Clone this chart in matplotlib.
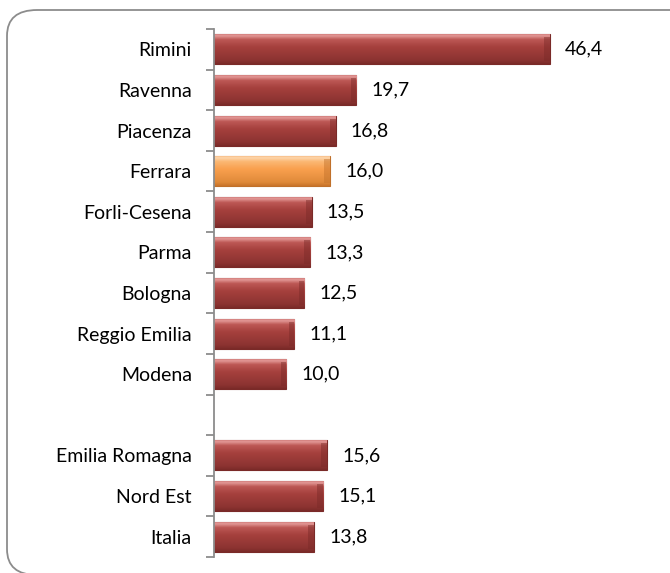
import numpy as np
import matplotlib
matplotlib.use("Agg")
import matplotlib.pyplot as plt
from matplotlib.colors import LinearSegmentedColormap
from matplotlib.patches import FancyBboxPatch

plt.rcParams['font.family'] = ['Lato', 'DejaVu Sans']

# --- data (blank entry = gap row between provinces and aggregates) ---
labels = ["Rimini", "Ravenna", "Piacenza", "Ferrara", "Forli-Cesena", "Parma",
          "Bologna", "Reggio Emilia", "Modena", "",
          "Emilia Romagna", "Nord Est", "Italia"]
values = [46.4, 19.7, 16.8, 16.0, 13.5, 13.3, 12.5, 11.1, 10.0, np.nan,
          15.6, 15.1, 13.8]
highlight = "Ferrara"

red_cmap = LinearSegmentedColormap.from_list(
    "red", [(0.0, "#7a2a28"), (0.12, "#8c3331"), (0.55, "#a5403d"),
            (0.80, "#bd5855"), (0.92, "#e39896"), (1.0, "#c97270")])
orange_cmap = LinearSegmentedColormap.from_list(
    "orange", [(0.0, "#c8742a"), (0.12, "#e08a3a"), (0.55, "#f9a04e"),
               (0.80, "#fbb874"), (0.92, "#fdd6ac"), (1.0, "#f5b377")])

fig = plt.figure(figsize=(6.7, 5.73), dpi=100)

# rounded outer frame, running off the right and bottom edges
frame = FancyBboxPatch((7 / 670, 1 - 575 / 573), 1.1, 565 / 573,
                       boxstyle="round,pad=0,rounding_size=0.045",
                       transform=fig.transFigure, facecolor="none",
                       edgecolor="#8c8c8c", linewidth=1.3, zorder=-1)
fig.patches.append(frame)

ax = fig.add_axes([214 / 670, 1 - 557 / 573, 434 / 670, 528 / 573])
ax.set_facecolor("none")

y = np.arange(len(labels))
vals = np.nan_to_num(np.array(values, dtype=float))
bars = ax.barh(y, vals, height=0.74, color="#a5403d", edgecolor="#7a2a28",
               linewidth=0.8, zorder=2)

grad = np.linspace(0, 1, 64).reshape(-1, 1)
for lab, v, bar in zip(labels, values, bars):
    if np.isnan(v):
        bar.set_visible(False)
        continue
    cmap = orange_cmap if lab == highlight else red_cmap
    edge = "#c0702a" if lab == highlight else "#7a2a28"
    bar.set_edgecolor(edge)
    bx, by = bar.get_x(), bar.get_y()
    bw, bh = bar.get_width(), bar.get_height()
    # vertical bevel gradient, dark at bottom and light near the top
    im = ax.imshow(grad, extent=(bx, bx + bw, by + bh, by), aspect="auto",
                   cmap=cmap, vmin=0, vmax=1, zorder=2.5, origin="lower",
                   interpolation="bilinear")
    im.set_clip_path(bar)
    # darker right end cap
    ax.barh(by + bh / 2, 0.8, left=bx + bw - 0.8, height=bh * 0.8,
            color=edge, alpha=0.45, linewidth=0, zorder=2.6)
    ax.annotate(f"{v:.1f}".replace(".", ","), xy=(v, by + bh / 2),
                xytext=(11, 0), textcoords="offset points", va="center",
                ha="left", fontsize=14, color="#000000")

ax.set_xlim(0, 60)
ax.set_ylim(len(labels) - 0.5, -0.5)
ax.set_yticks(y)
ax.set_yticklabels(labels, fontsize=14)
ax.set_yticks(np.arange(len(labels) + 1) - 0.5, minor=True)
ax.tick_params(axis="y", which="major", length=0, pad=16)
ax.tick_params(axis="y", which="minor", length=6, width=1.3, color="#8c8c8c")
ax.set_xticks([])
for side in ["top", "right", "bottom"]:
    ax.spines[side].set_visible(False)
ax.spines["left"].set_color("#8c8c8c")
ax.spines["left"].set_linewidth(1.3)

fig.savefig("out.png", dpi=100)
